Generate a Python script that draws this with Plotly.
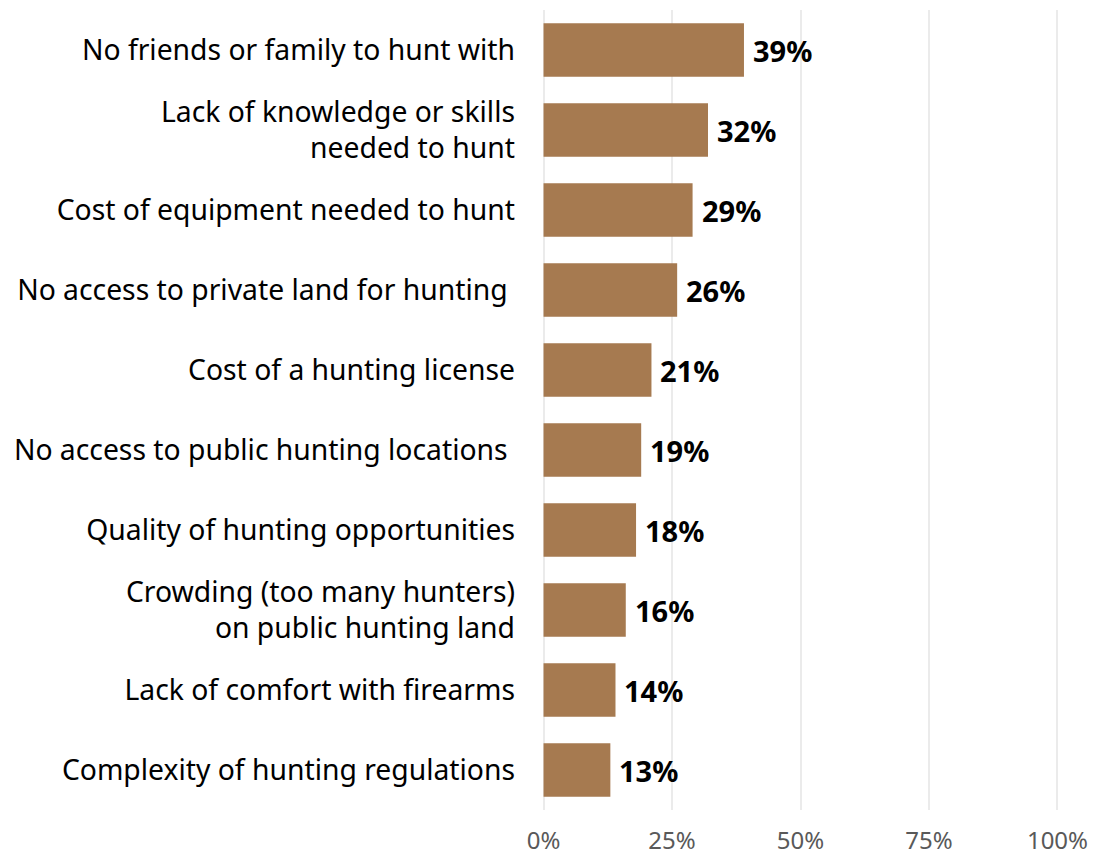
import plotly.graph_objects as go

categories = [
    "No friends or family to hunt with",
    "Lack of knowledge or skills<br>needed to hunt",
    "Cost of equipment needed to hunt",
    "No access to private land for hunting\u00a0",
    "Cost of a hunting license",
    "No access to public hunting locations\u00a0",
    "Quality of hunting opportunities",
    "Crowding (too many hunters)<br>on public hunting land",
    "Lack of comfort with firearms",
    "Complexity of hunting regulations",
]
values = [39, 32, 29, 26, 21, 19, 18, 16, 14, 13]
tick_vals = [0, 25, 50, 75, 100]
tick_text = ["0%", "25%", "50%", "75%", "100%"]

FONT = "Noto Sans"

fig = go.Figure(go.Bar(
    y=categories, x=values, orientation="h",
    marker=dict(color="#A67A50", line=dict(width=0)),
    width=0.67,
))

for c, v in zip(categories, values):
    fig.add_annotation(x=v, y=c, text=f"<b>{v}%</b>", showarrow=False,
                       xanchor="left", xshift=7,
                       font=dict(family=FONT, size=29, color="black"))

fig.update_layout(
    width=1088, height=847,
    margin=dict(l=534, r=37, t=2, b=45),
    plot_bgcolor="white", paper_bgcolor="white",
    showlegend=False,
    font=dict(family=FONT),
    xaxis=dict(range=[-0.3, 100.3], tickvals=tick_vals, ticktext=tick_text,
               showgrid=True, gridcolor="#EBEBEB", gridwidth=1.5,
               zeroline=False, showline=False, automargin=False,
               ticklabelstandoff=14,
               tickfont=dict(size=24, color="#595959")),
    yaxis=dict(autorange="reversed", showgrid=False, zeroline=False,
               ticklabelstandoff=26, automargin=False,
               tickfont=dict(size=28.3, color="black")),
)

fig.write_html("out.html")
